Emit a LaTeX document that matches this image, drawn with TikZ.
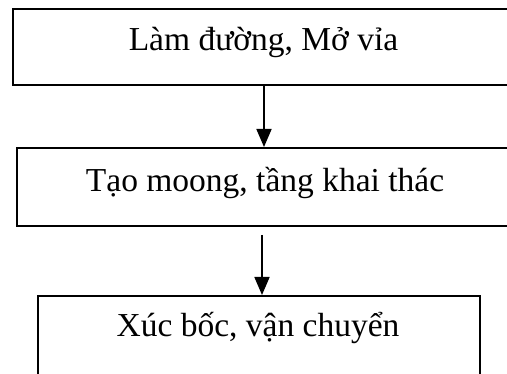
\documentclass[tikz,border=0pt]{standalone}
\usepackage{fontspec}
\setmainfont{Liberation Serif}
\usetikzlibrary{arrows.meta}
\begin{document}
\begin{tikzpicture}[x=1pt,y=-1pt,
  box/.style={draw=black, line width=1.8pt, inner sep=0pt, anchor=north west},
  lbl/.style={anchor=base, inner sep=0pt, font=\fontsize{33.5}{40}\selectfont},
  conn/.style={line width=1.8pt, -{Triangle[length=18pt,width=15pt]}}]
\useasboundingbox (0,0) rectangle (507,374);
\clip (0,0) rectangle (507,374);
\node[box, minimum width=520pt, minimum height=76pt] (b1) at (12,8) {};
\node[box, minimum width=520pt, minimum height=78pt] (b2) at (16,147) {};
\node[box, minimum width=442pt, minimum height=100pt] (b3) at (37,295) {};
\node[lbl] (t1) at (263.5,51) {Làm đường, Mở vỉa};
\node[lbl] (t2) at (265,192) {Tạo moong, tầng khai thác};
\node[lbl] (t3) at (258,337) {Xúc bốc, vận chuyển};
\coordinate (c2) at (262,235);
\draw[conn] (b1.south west -| 264,0) -- (b2.north west -| 264,0);
\draw[conn] (c2) -- (b3.north west -| 262,0);
\end{tikzpicture}
\end{document}
